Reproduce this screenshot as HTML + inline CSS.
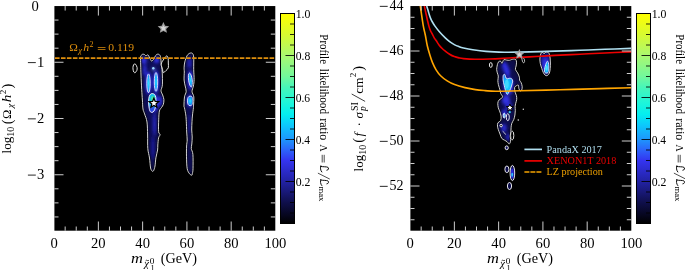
<!DOCTYPE html>
<html><head><meta charset="utf-8"><title>plot</title><style>
html,body{margin:0;padding:0;background:#fff;width:685px;height:270px;overflow:hidden}
svg{display:block;will-change:transform}
text{font-family:"Liberation Serif",serif}
</style></head><body>
<svg width="685" height="270" viewBox="0 0 685 270">
<defs>
<linearGradient id="cmap" x1="0" y1="1" x2="0" y2="0">
<stop offset="0" stop-color="#000000"/>
<stop offset="0.1" stop-color="#0f0f4b"/>
<stop offset="0.2" stop-color="#2222a4"/>
<stop offset="0.3" stop-color="#3434f0"/>
<stop offset="0.35" stop-color="#2c64fa"/>
<stop offset="0.4" stop-color="#1e96fc"/>
<stop offset="0.47" stop-color="#0ccafc"/>
<stop offset="0.52" stop-color="#04eef0"/>
<stop offset="0.58" stop-color="#20f6d8"/>
<stop offset="0.65" stop-color="#48f6b8"/>
<stop offset="0.7" stop-color="#72f89c"/>
<stop offset="0.8" stop-color="#aaf870"/>
<stop offset="0.9" stop-color="#d8fa30"/>
<stop offset="1" stop-color="#ffff00"/>
</linearGradient>
<radialGradient id="rg1"><stop offset="0" stop-color="#30e0ff"/><stop offset="0.55" stop-color="#12b0ff"/><stop offset="1" stop-color="#2a60f0"/></radialGradient>
<radialGradient id="rg2" cx="0.45" cy="0.55" r="0.6"><stop offset="0" stop-color="#20e0ff"/><stop offset="0.6" stop-color="#10b0ff"/><stop offset="1" stop-color="#2a70f0"/></radialGradient>
<filter id="b1" x="-50%" y="-50%" width="200%" height="200%"><feGaussianBlur stdDeviation="1.6"/></filter>
<filter id="b2" x="-50%" y="-50%" width="200%" height="200%"><feGaussianBlur stdDeviation="0.9"/></filter>
<filter id="b4" x="-50%" y="-50%" width="200%" height="200%"><feGaussianBlur stdDeviation="2.2"/></filter>
<filter id="b3" x="-50%" y="-50%" width="200%" height="200%"><feGaussianBlur stdDeviation="0.6"/></filter>
</defs>
<rect width="685" height="270" fill="#fff"/>

<rect x="54.4" y="6.05" width="220.9" height="224.65" fill="#000"/>
<defs><clipPath id="cA"><path d="M140.60,57.00 C140.75,55.33 141.22,55.47 141.60,55.00 C141.98,54.53 142.40,54.27 142.90,54.20 C143.40,54.13 144.10,54.32 144.60,54.60 C145.10,54.88 145.47,55.83 145.90,55.90 C146.33,55.97 146.77,55.08 147.20,55.00 C147.63,54.92 148.05,54.80 148.50,55.40 C148.95,56.00 149.40,57.67 149.90,58.60 C150.40,59.53 150.90,60.87 151.50,61.00 C152.10,61.13 152.82,60.30 153.50,59.40 C154.18,58.50 154.92,56.47 155.60,55.60 C156.28,54.73 156.93,54.32 157.60,54.20 C158.27,54.08 159.08,54.37 159.60,54.90 C160.12,55.43 160.43,55.88 160.70,57.40 C160.97,58.92 160.95,61.57 161.20,64.00 C161.45,66.43 162.00,68.53 162.20,72.00 C162.40,75.47 162.60,81.68 162.40,84.80 C162.20,87.92 160.97,89.00 161.00,90.70 C161.03,92.40 162.12,93.52 162.60,95.00 C163.08,96.48 163.78,98.02 163.90,99.60 C164.02,101.18 163.70,103.18 163.30,104.50 C162.90,105.82 162.15,106.42 161.50,107.50 C160.85,108.58 159.87,108.95 159.40,111.00 C158.93,113.05 158.83,116.35 158.70,119.80 C158.57,123.25 158.37,129.23 158.60,131.70 C158.83,134.17 160.10,133.58 160.10,134.60 C160.10,135.62 158.98,136.07 158.60,137.80 C158.22,139.53 157.97,142.97 157.80,145.00 C157.63,147.03 157.92,147.87 157.60,150.00 C157.28,152.13 156.33,155.13 155.90,157.80 C155.47,160.47 155.38,163.87 155.00,166.00 C154.62,168.13 154.07,169.75 153.60,170.60 C153.13,171.45 152.70,171.53 152.20,171.10 C151.70,170.67 151.05,170.18 150.60,168.00 C150.15,165.82 149.97,161.25 149.50,158.00 C149.03,154.75 148.12,152.33 147.80,148.50 C147.48,144.67 147.73,139.42 147.60,135.00 C147.47,130.58 147.50,125.52 147.00,122.00 C146.50,118.48 145.27,116.07 144.60,113.90 C143.93,111.73 143.37,111.32 143.00,109.00 C142.63,106.68 142.62,103.28 142.40,100.00 C142.18,96.72 141.93,93.47 141.70,89.30 C141.47,85.13 141.17,79.05 141.00,75.00 C140.83,70.95 140.77,68.00 140.70,65.00 C140.63,62.00 140.45,58.67 140.60,57.00Z"/></clipPath><clipPath id="cB"><path d="M190.70,53.00 C191.33,52.97 192.10,52.87 192.60,53.60 C193.10,54.33 193.52,54.78 193.70,57.40 C193.88,60.02 193.63,65.60 193.70,69.30 C193.77,73.00 194.15,76.82 194.10,79.60 C194.05,82.38 193.75,84.00 193.40,86.00 C193.05,88.00 191.93,89.78 192.00,91.60 C192.07,93.42 193.55,94.52 193.80,96.90 C194.05,99.28 193.57,104.05 193.50,105.90 C193.43,107.75 193.57,106.48 193.40,108.00 C193.23,109.52 192.73,112.77 192.50,115.00 C192.27,117.23 192.13,118.90 192.00,121.40 C191.87,123.90 191.67,127.40 191.70,130.00 C191.73,132.60 192.18,134.67 192.20,137.00 C192.22,139.33 191.95,142.07 191.80,144.00 C191.65,145.93 191.12,146.85 191.30,148.60 C191.48,150.35 192.62,151.15 192.90,154.50 C193.18,157.85 193.08,165.55 193.00,168.70 C192.92,171.85 192.60,172.32 192.40,173.40 C192.20,174.48 192.27,175.13 191.80,175.20 C191.33,175.27 190.37,174.88 189.60,173.80 C188.83,172.72 187.72,171.53 187.20,168.70 C186.68,165.87 186.60,160.58 186.50,156.80 C186.40,153.02 186.48,148.80 186.60,146.00 C186.72,143.20 187.18,142.33 187.20,140.00 C187.22,137.67 186.85,135.10 186.70,132.00 C186.55,128.90 186.45,124.23 186.30,121.40 C186.15,118.57 186.10,117.23 185.80,115.00 C185.50,112.77 184.80,109.52 184.50,108.00 C184.20,106.48 184.00,107.75 184.00,105.90 C184.00,104.05 184.13,99.28 184.50,96.90 C184.87,94.52 186.08,93.42 186.20,91.60 C186.32,89.78 185.55,87.93 185.20,86.00 C184.85,84.07 184.25,82.33 184.10,80.00 C183.95,77.67 184.30,74.03 184.30,72.00 C184.30,69.97 184.02,69.48 184.10,67.80 C184.18,66.12 184.32,63.88 184.80,61.90 C185.28,59.92 186.33,57.25 187.00,55.90 C187.67,54.55 188.18,54.28 188.80,53.80 C189.42,53.32 190.07,53.03 190.70,53.00Z"/></clipPath></defs>
<g clip-path="url(#cA)">
<path d="M140.60,57.00 C140.75,55.33 141.22,55.47 141.60,55.00 C141.98,54.53 142.40,54.27 142.90,54.20 C143.40,54.13 144.10,54.32 144.60,54.60 C145.10,54.88 145.47,55.83 145.90,55.90 C146.33,55.97 146.77,55.08 147.20,55.00 C147.63,54.92 148.05,54.80 148.50,55.40 C148.95,56.00 149.40,57.67 149.90,58.60 C150.40,59.53 150.90,60.87 151.50,61.00 C152.10,61.13 152.82,60.30 153.50,59.40 C154.18,58.50 154.92,56.47 155.60,55.60 C156.28,54.73 156.93,54.32 157.60,54.20 C158.27,54.08 159.08,54.37 159.60,54.90 C160.12,55.43 160.43,55.88 160.70,57.40 C160.97,58.92 160.95,61.57 161.20,64.00 C161.45,66.43 162.00,68.53 162.20,72.00 C162.40,75.47 162.60,81.68 162.40,84.80 C162.20,87.92 160.97,89.00 161.00,90.70 C161.03,92.40 162.12,93.52 162.60,95.00 C163.08,96.48 163.78,98.02 163.90,99.60 C164.02,101.18 163.70,103.18 163.30,104.50 C162.90,105.82 162.15,106.42 161.50,107.50 C160.85,108.58 159.87,108.95 159.40,111.00 C158.93,113.05 158.83,116.35 158.70,119.80 C158.57,123.25 158.37,129.23 158.60,131.70 C158.83,134.17 160.10,133.58 160.10,134.60 C160.10,135.62 158.98,136.07 158.60,137.80 C158.22,139.53 157.97,142.97 157.80,145.00 C157.63,147.03 157.92,147.87 157.60,150.00 C157.28,152.13 156.33,155.13 155.90,157.80 C155.47,160.47 155.38,163.87 155.00,166.00 C154.62,168.13 154.07,169.75 153.60,170.60 C153.13,171.45 152.70,171.53 152.20,171.10 C151.70,170.67 151.05,170.18 150.60,168.00 C150.15,165.82 149.97,161.25 149.50,158.00 C149.03,154.75 148.12,152.33 147.80,148.50 C147.48,144.67 147.73,139.42 147.60,135.00 C147.47,130.58 147.50,125.52 147.00,122.00 C146.50,118.48 145.27,116.07 144.60,113.90 C143.93,111.73 143.37,111.32 143.00,109.00 C142.63,106.68 142.62,103.28 142.40,100.00 C142.18,96.72 141.93,93.47 141.70,89.30 C141.47,85.13 141.17,79.05 141.00,75.00 C140.83,70.95 140.77,68.00 140.70,65.00 C140.63,62.00 140.45,58.67 140.60,57.00Z" fill="#030320"/>
<path d="M140.60,57.00 C140.75,55.33 141.22,55.47 141.60,55.00 C141.98,54.53 142.40,54.27 142.90,54.20 C143.40,54.13 144.10,54.32 144.60,54.60 C145.10,54.88 145.47,55.83 145.90,55.90 C146.33,55.97 146.77,55.08 147.20,55.00 C147.63,54.92 148.05,54.80 148.50,55.40 C148.95,56.00 149.40,57.67 149.90,58.60 C150.40,59.53 150.90,60.87 151.50,61.00 C152.10,61.13 152.82,60.30 153.50,59.40 C154.18,58.50 154.92,56.47 155.60,55.60 C156.28,54.73 156.93,54.32 157.60,54.20 C158.27,54.08 159.08,54.37 159.60,54.90 C160.12,55.43 160.43,55.88 160.70,57.40 C160.97,58.92 160.95,61.57 161.20,64.00 C161.45,66.43 162.00,68.53 162.20,72.00 C162.40,75.47 162.60,81.68 162.40,84.80 C162.20,87.92 160.97,89.00 161.00,90.70 C161.03,92.40 162.12,93.52 162.60,95.00 C163.08,96.48 163.78,98.02 163.90,99.60 C164.02,101.18 163.70,103.18 163.30,104.50 C162.90,105.82 162.15,106.42 161.50,107.50 C160.85,108.58 159.87,108.95 159.40,111.00 C158.93,113.05 158.83,116.35 158.70,119.80 C158.57,123.25 158.37,129.23 158.60,131.70 C158.83,134.17 160.10,133.58 160.10,134.60 C160.10,135.62 158.98,136.07 158.60,137.80 C158.22,139.53 157.97,142.97 157.80,145.00 C157.63,147.03 157.92,147.87 157.60,150.00 C157.28,152.13 156.33,155.13 155.90,157.80 C155.47,160.47 155.38,163.87 155.00,166.00 C154.62,168.13 154.07,169.75 153.60,170.60 C153.13,171.45 152.70,171.53 152.20,171.10 C151.70,170.67 151.05,170.18 150.60,168.00 C150.15,165.82 149.97,161.25 149.50,158.00 C149.03,154.75 148.12,152.33 147.80,148.50 C147.48,144.67 147.73,139.42 147.60,135.00 C147.47,130.58 147.50,125.52 147.00,122.00 C146.50,118.48 145.27,116.07 144.60,113.90 C143.93,111.73 143.37,111.32 143.00,109.00 C142.63,106.68 142.62,103.28 142.40,100.00 C142.18,96.72 141.93,93.47 141.70,89.30 C141.47,85.13 141.17,79.05 141.00,75.00 C140.83,70.95 140.77,68.00 140.70,65.00 C140.63,62.00 140.45,58.67 140.60,57.00Z" fill="#0b0b58" filter="url(#b4)"/>
<g filter="url(#b1)"><ellipse cx="144.8" cy="70" rx="1.8" ry="6" fill="#2a2ad0"/><ellipse cx="144" cy="60.5" rx="2.6" ry="3.5" fill="#3030e0"/><ellipse cx="156.5" cy="60" rx="2.8" ry="3.2" fill="#2e2edc"/><ellipse cx="148.5" cy="83" rx="3" ry="11.5" fill="#3232e8"/><ellipse cx="156.0" cy="82" rx="3" ry="11.5" fill="#3030e4"/><ellipse cx="154.3" cy="103" rx="4.3" ry="9" fill="#3232e8"/><ellipse cx="159.8" cy="101" rx="2.6" ry="5" fill="#2828c4"/><ellipse cx="154.5" cy="124" rx="1.5" ry="12" fill="#2626c4"/><ellipse cx="153" cy="148" rx="1.1" ry="12" fill="#2020b0"/><circle cx="153.5" cy="69" r="1.6" fill="#7090ff"/></g>
</g>
<g clip-path="url(#cB)">
<path d="M190.70,53.00 C191.33,52.97 192.10,52.87 192.60,53.60 C193.10,54.33 193.52,54.78 193.70,57.40 C193.88,60.02 193.63,65.60 193.70,69.30 C193.77,73.00 194.15,76.82 194.10,79.60 C194.05,82.38 193.75,84.00 193.40,86.00 C193.05,88.00 191.93,89.78 192.00,91.60 C192.07,93.42 193.55,94.52 193.80,96.90 C194.05,99.28 193.57,104.05 193.50,105.90 C193.43,107.75 193.57,106.48 193.40,108.00 C193.23,109.52 192.73,112.77 192.50,115.00 C192.27,117.23 192.13,118.90 192.00,121.40 C191.87,123.90 191.67,127.40 191.70,130.00 C191.73,132.60 192.18,134.67 192.20,137.00 C192.22,139.33 191.95,142.07 191.80,144.00 C191.65,145.93 191.12,146.85 191.30,148.60 C191.48,150.35 192.62,151.15 192.90,154.50 C193.18,157.85 193.08,165.55 193.00,168.70 C192.92,171.85 192.60,172.32 192.40,173.40 C192.20,174.48 192.27,175.13 191.80,175.20 C191.33,175.27 190.37,174.88 189.60,173.80 C188.83,172.72 187.72,171.53 187.20,168.70 C186.68,165.87 186.60,160.58 186.50,156.80 C186.40,153.02 186.48,148.80 186.60,146.00 C186.72,143.20 187.18,142.33 187.20,140.00 C187.22,137.67 186.85,135.10 186.70,132.00 C186.55,128.90 186.45,124.23 186.30,121.40 C186.15,118.57 186.10,117.23 185.80,115.00 C185.50,112.77 184.80,109.52 184.50,108.00 C184.20,106.48 184.00,107.75 184.00,105.90 C184.00,104.05 184.13,99.28 184.50,96.90 C184.87,94.52 186.08,93.42 186.20,91.60 C186.32,89.78 185.55,87.93 185.20,86.00 C184.85,84.07 184.25,82.33 184.10,80.00 C183.95,77.67 184.30,74.03 184.30,72.00 C184.30,69.97 184.02,69.48 184.10,67.80 C184.18,66.12 184.32,63.88 184.80,61.90 C185.28,59.92 186.33,57.25 187.00,55.90 C187.67,54.55 188.18,54.28 188.80,53.80 C189.42,53.32 190.07,53.03 190.70,53.00Z" fill="#030320"/>
<path d="M190.70,53.00 C191.33,52.97 192.10,52.87 192.60,53.60 C193.10,54.33 193.52,54.78 193.70,57.40 C193.88,60.02 193.63,65.60 193.70,69.30 C193.77,73.00 194.15,76.82 194.10,79.60 C194.05,82.38 193.75,84.00 193.40,86.00 C193.05,88.00 191.93,89.78 192.00,91.60 C192.07,93.42 193.55,94.52 193.80,96.90 C194.05,99.28 193.57,104.05 193.50,105.90 C193.43,107.75 193.57,106.48 193.40,108.00 C193.23,109.52 192.73,112.77 192.50,115.00 C192.27,117.23 192.13,118.90 192.00,121.40 C191.87,123.90 191.67,127.40 191.70,130.00 C191.73,132.60 192.18,134.67 192.20,137.00 C192.22,139.33 191.95,142.07 191.80,144.00 C191.65,145.93 191.12,146.85 191.30,148.60 C191.48,150.35 192.62,151.15 192.90,154.50 C193.18,157.85 193.08,165.55 193.00,168.70 C192.92,171.85 192.60,172.32 192.40,173.40 C192.20,174.48 192.27,175.13 191.80,175.20 C191.33,175.27 190.37,174.88 189.60,173.80 C188.83,172.72 187.72,171.53 187.20,168.70 C186.68,165.87 186.60,160.58 186.50,156.80 C186.40,153.02 186.48,148.80 186.60,146.00 C186.72,143.20 187.18,142.33 187.20,140.00 C187.22,137.67 186.85,135.10 186.70,132.00 C186.55,128.90 186.45,124.23 186.30,121.40 C186.15,118.57 186.10,117.23 185.80,115.00 C185.50,112.77 184.80,109.52 184.50,108.00 C184.20,106.48 184.00,107.75 184.00,105.90 C184.00,104.05 184.13,99.28 184.50,96.90 C184.87,94.52 186.08,93.42 186.20,91.60 C186.32,89.78 185.55,87.93 185.20,86.00 C184.85,84.07 184.25,82.33 184.10,80.00 C183.95,77.67 184.30,74.03 184.30,72.00 C184.30,69.97 184.02,69.48 184.10,67.80 C184.18,66.12 184.32,63.88 184.80,61.90 C185.28,59.92 186.33,57.25 187.00,55.90 C187.67,54.55 188.18,54.28 188.80,53.80 C189.42,53.32 190.07,53.03 190.70,53.00Z" fill="#0b0b58" filter="url(#b4)"/>
<g filter="url(#b1)"><ellipse cx="190.4" cy="80" rx="2.8" ry="10" fill="#2c2cd8"/><ellipse cx="189.5" cy="63" rx="2" ry="5" fill="#2222b8"/><ellipse cx="190.2" cy="101" rx="3.4" ry="6" fill="#3030e0"/><ellipse cx="189.5" cy="124" rx="1" ry="10" fill="#1c1ca4"/></g>
</g>
<ellipse cx="148.5" cy="83.3" rx="1.7" ry="9.4" transform="rotate(0 148.5 83.3)" fill="url(#rg1)" stroke="#f0f4ff" stroke-width="0.85"/>
<ellipse cx="156.0" cy="81.9" rx="1.7" ry="9.4" transform="rotate(0 156.0 81.9)" fill="url(#rg1)" stroke="#f0f4ff" stroke-width="0.85"/>
<ellipse cx="190.4" cy="80.0" rx="1.8" ry="7.0" transform="rotate(-8 190.4 80.0)" fill="url(#rg1)" stroke="#f0f4ff" stroke-width="0.85"/>
<ellipse cx="190.2" cy="100.9" rx="2.7" ry="4.8" transform="rotate(0 190.2 100.9)" fill="url(#rg1)" stroke="#f0f4ff" stroke-width="0.85"/>
<defs><linearGradient id="sbg" x1="0" y1="0" x2="0" y2="1"><stop offset="0" stop-color="#10c0e8"/><stop offset="0.55" stop-color="#10b8f0"/><stop offset="0.8" stop-color="#2a50e0"/><stop offset="1" stop-color="#2a40e0"/></linearGradient></defs>
<path d="M152.20,93.60 C152.88,93.65 154.00,93.85 154.60,94.50 C155.20,95.15 155.58,96.25 155.80,97.50 C156.02,98.75 155.95,100.42 155.90,102.00 C155.85,103.58 155.82,105.50 155.50,107.00 C155.18,108.50 154.58,110.10 154.00,111.00 C153.42,111.90 152.67,112.37 152.00,112.40 C151.33,112.43 150.50,112.10 150.00,111.20 C149.50,110.30 149.23,108.70 149.00,107.00 C148.77,105.30 148.57,102.75 148.60,101.00 C148.63,99.25 148.88,97.63 149.20,96.50 C149.52,95.37 150.00,94.68 150.50,94.20 C151.00,93.72 151.52,93.55 152.20,93.60Z" fill="url(#sbg)" stroke="#fff" stroke-width="0.9"/>
<ellipse cx="153" cy="99" rx="2" ry="3" fill="#40e0a0" filter="url(#b3)"/>
<path d="M140.60,57.00 C140.75,55.33 141.22,55.47 141.60,55.00 C141.98,54.53 142.40,54.27 142.90,54.20 C143.40,54.13 144.10,54.32 144.60,54.60 C145.10,54.88 145.47,55.83 145.90,55.90 C146.33,55.97 146.77,55.08 147.20,55.00 C147.63,54.92 148.05,54.80 148.50,55.40 C148.95,56.00 149.40,57.67 149.90,58.60 C150.40,59.53 150.90,60.87 151.50,61.00 C152.10,61.13 152.82,60.30 153.50,59.40 C154.18,58.50 154.92,56.47 155.60,55.60 C156.28,54.73 156.93,54.32 157.60,54.20 C158.27,54.08 159.08,54.37 159.60,54.90 C160.12,55.43 160.43,55.88 160.70,57.40 C160.97,58.92 160.95,61.57 161.20,64.00 C161.45,66.43 162.00,68.53 162.20,72.00 C162.40,75.47 162.60,81.68 162.40,84.80 C162.20,87.92 160.97,89.00 161.00,90.70 C161.03,92.40 162.12,93.52 162.60,95.00 C163.08,96.48 163.78,98.02 163.90,99.60 C164.02,101.18 163.70,103.18 163.30,104.50 C162.90,105.82 162.15,106.42 161.50,107.50 C160.85,108.58 159.87,108.95 159.40,111.00 C158.93,113.05 158.83,116.35 158.70,119.80 C158.57,123.25 158.37,129.23 158.60,131.70 C158.83,134.17 160.10,133.58 160.10,134.60 C160.10,135.62 158.98,136.07 158.60,137.80 C158.22,139.53 157.97,142.97 157.80,145.00 C157.63,147.03 157.92,147.87 157.60,150.00 C157.28,152.13 156.33,155.13 155.90,157.80 C155.47,160.47 155.38,163.87 155.00,166.00 C154.62,168.13 154.07,169.75 153.60,170.60 C153.13,171.45 152.70,171.53 152.20,171.10 C151.70,170.67 151.05,170.18 150.60,168.00 C150.15,165.82 149.97,161.25 149.50,158.00 C149.03,154.75 148.12,152.33 147.80,148.50 C147.48,144.67 147.73,139.42 147.60,135.00 C147.47,130.58 147.50,125.52 147.00,122.00 C146.50,118.48 145.27,116.07 144.60,113.90 C143.93,111.73 143.37,111.32 143.00,109.00 C142.63,106.68 142.62,103.28 142.40,100.00 C142.18,96.72 141.93,93.47 141.70,89.30 C141.47,85.13 141.17,79.05 141.00,75.00 C140.83,70.95 140.77,68.00 140.70,65.00 C140.63,62.00 140.45,58.67 140.60,57.00Z" fill="none" stroke="#000" stroke-width="2.2" opacity="0.55"/>
<path d="M140.60,57.00 C140.75,55.33 141.22,55.47 141.60,55.00 C141.98,54.53 142.40,54.27 142.90,54.20 C143.40,54.13 144.10,54.32 144.60,54.60 C145.10,54.88 145.47,55.83 145.90,55.90 C146.33,55.97 146.77,55.08 147.20,55.00 C147.63,54.92 148.05,54.80 148.50,55.40 C148.95,56.00 149.40,57.67 149.90,58.60 C150.40,59.53 150.90,60.87 151.50,61.00 C152.10,61.13 152.82,60.30 153.50,59.40 C154.18,58.50 154.92,56.47 155.60,55.60 C156.28,54.73 156.93,54.32 157.60,54.20 C158.27,54.08 159.08,54.37 159.60,54.90 C160.12,55.43 160.43,55.88 160.70,57.40 C160.97,58.92 160.95,61.57 161.20,64.00 C161.45,66.43 162.00,68.53 162.20,72.00 C162.40,75.47 162.60,81.68 162.40,84.80 C162.20,87.92 160.97,89.00 161.00,90.70 C161.03,92.40 162.12,93.52 162.60,95.00 C163.08,96.48 163.78,98.02 163.90,99.60 C164.02,101.18 163.70,103.18 163.30,104.50 C162.90,105.82 162.15,106.42 161.50,107.50 C160.85,108.58 159.87,108.95 159.40,111.00 C158.93,113.05 158.83,116.35 158.70,119.80 C158.57,123.25 158.37,129.23 158.60,131.70 C158.83,134.17 160.10,133.58 160.10,134.60 C160.10,135.62 158.98,136.07 158.60,137.80 C158.22,139.53 157.97,142.97 157.80,145.00 C157.63,147.03 157.92,147.87 157.60,150.00 C157.28,152.13 156.33,155.13 155.90,157.80 C155.47,160.47 155.38,163.87 155.00,166.00 C154.62,168.13 154.07,169.75 153.60,170.60 C153.13,171.45 152.70,171.53 152.20,171.10 C151.70,170.67 151.05,170.18 150.60,168.00 C150.15,165.82 149.97,161.25 149.50,158.00 C149.03,154.75 148.12,152.33 147.80,148.50 C147.48,144.67 147.73,139.42 147.60,135.00 C147.47,130.58 147.50,125.52 147.00,122.00 C146.50,118.48 145.27,116.07 144.60,113.90 C143.93,111.73 143.37,111.32 143.00,109.00 C142.63,106.68 142.62,103.28 142.40,100.00 C142.18,96.72 141.93,93.47 141.70,89.30 C141.47,85.13 141.17,79.05 141.00,75.00 C140.83,70.95 140.77,68.00 140.70,65.00 C140.63,62.00 140.45,58.67 140.60,57.00Z" fill="none" stroke="#e8e8e8" stroke-width="0.9"/>
<path d="M190.70,53.00 C191.33,52.97 192.10,52.87 192.60,53.60 C193.10,54.33 193.52,54.78 193.70,57.40 C193.88,60.02 193.63,65.60 193.70,69.30 C193.77,73.00 194.15,76.82 194.10,79.60 C194.05,82.38 193.75,84.00 193.40,86.00 C193.05,88.00 191.93,89.78 192.00,91.60 C192.07,93.42 193.55,94.52 193.80,96.90 C194.05,99.28 193.57,104.05 193.50,105.90 C193.43,107.75 193.57,106.48 193.40,108.00 C193.23,109.52 192.73,112.77 192.50,115.00 C192.27,117.23 192.13,118.90 192.00,121.40 C191.87,123.90 191.67,127.40 191.70,130.00 C191.73,132.60 192.18,134.67 192.20,137.00 C192.22,139.33 191.95,142.07 191.80,144.00 C191.65,145.93 191.12,146.85 191.30,148.60 C191.48,150.35 192.62,151.15 192.90,154.50 C193.18,157.85 193.08,165.55 193.00,168.70 C192.92,171.85 192.60,172.32 192.40,173.40 C192.20,174.48 192.27,175.13 191.80,175.20 C191.33,175.27 190.37,174.88 189.60,173.80 C188.83,172.72 187.72,171.53 187.20,168.70 C186.68,165.87 186.60,160.58 186.50,156.80 C186.40,153.02 186.48,148.80 186.60,146.00 C186.72,143.20 187.18,142.33 187.20,140.00 C187.22,137.67 186.85,135.10 186.70,132.00 C186.55,128.90 186.45,124.23 186.30,121.40 C186.15,118.57 186.10,117.23 185.80,115.00 C185.50,112.77 184.80,109.52 184.50,108.00 C184.20,106.48 184.00,107.75 184.00,105.90 C184.00,104.05 184.13,99.28 184.50,96.90 C184.87,94.52 186.08,93.42 186.20,91.60 C186.32,89.78 185.55,87.93 185.20,86.00 C184.85,84.07 184.25,82.33 184.10,80.00 C183.95,77.67 184.30,74.03 184.30,72.00 C184.30,69.97 184.02,69.48 184.10,67.80 C184.18,66.12 184.32,63.88 184.80,61.90 C185.28,59.92 186.33,57.25 187.00,55.90 C187.67,54.55 188.18,54.28 188.80,53.80 C189.42,53.32 190.07,53.03 190.70,53.00Z" fill="none" stroke="#000" stroke-width="2.2" opacity="0.55"/>
<path d="M190.70,53.00 C191.33,52.97 192.10,52.87 192.60,53.60 C193.10,54.33 193.52,54.78 193.70,57.40 C193.88,60.02 193.63,65.60 193.70,69.30 C193.77,73.00 194.15,76.82 194.10,79.60 C194.05,82.38 193.75,84.00 193.40,86.00 C193.05,88.00 191.93,89.78 192.00,91.60 C192.07,93.42 193.55,94.52 193.80,96.90 C194.05,99.28 193.57,104.05 193.50,105.90 C193.43,107.75 193.57,106.48 193.40,108.00 C193.23,109.52 192.73,112.77 192.50,115.00 C192.27,117.23 192.13,118.90 192.00,121.40 C191.87,123.90 191.67,127.40 191.70,130.00 C191.73,132.60 192.18,134.67 192.20,137.00 C192.22,139.33 191.95,142.07 191.80,144.00 C191.65,145.93 191.12,146.85 191.30,148.60 C191.48,150.35 192.62,151.15 192.90,154.50 C193.18,157.85 193.08,165.55 193.00,168.70 C192.92,171.85 192.60,172.32 192.40,173.40 C192.20,174.48 192.27,175.13 191.80,175.20 C191.33,175.27 190.37,174.88 189.60,173.80 C188.83,172.72 187.72,171.53 187.20,168.70 C186.68,165.87 186.60,160.58 186.50,156.80 C186.40,153.02 186.48,148.80 186.60,146.00 C186.72,143.20 187.18,142.33 187.20,140.00 C187.22,137.67 186.85,135.10 186.70,132.00 C186.55,128.90 186.45,124.23 186.30,121.40 C186.15,118.57 186.10,117.23 185.80,115.00 C185.50,112.77 184.80,109.52 184.50,108.00 C184.20,106.48 184.00,107.75 184.00,105.90 C184.00,104.05 184.13,99.28 184.50,96.90 C184.87,94.52 186.08,93.42 186.20,91.60 C186.32,89.78 185.55,87.93 185.20,86.00 C184.85,84.07 184.25,82.33 184.10,80.00 C183.95,77.67 184.30,74.03 184.30,72.00 C184.30,69.97 184.02,69.48 184.10,67.80 C184.18,66.12 184.32,63.88 184.80,61.90 C185.28,59.92 186.33,57.25 187.00,55.90 C187.67,54.55 188.18,54.28 188.80,53.80 C189.42,53.32 190.07,53.03 190.70,53.00Z" fill="none" stroke="#e8e8e8" stroke-width="0.9"/>
<path d="M161.20,64.00 C161.45,62.42 163.13,60.25 163.90,59.00 C164.67,57.75 165.25,56.98 165.80,56.50 C166.35,56.02 166.80,55.70 167.20,56.10 C167.60,56.50 168.02,57.75 168.20,58.90 C168.38,60.05 168.28,61.52 168.30,63.00 C168.32,64.48 168.68,66.55 168.30,67.80 C167.92,69.05 166.83,69.70 166.00,70.50 C165.17,71.30 163.90,72.93 163.30,72.60 C162.70,72.27 162.75,69.93 162.40,68.50 C162.05,67.07 160.95,65.58 161.20,64.00Z" fill="#000" stroke="#fff" stroke-width="0.9"/>
<path d="M133.20,66.00 C133.42,65.17 133.90,64.28 134.30,64.00 C134.70,63.72 135.13,63.72 135.60,64.30 C136.07,64.88 136.90,66.47 137.10,67.50 C137.30,68.53 137.12,69.65 136.80,70.50 C136.48,71.35 135.70,72.35 135.20,72.60 C134.70,72.85 134.17,72.60 133.80,72.00 C133.43,71.40 133.10,70.00 133.00,69.00 C132.90,68.00 132.98,66.83 133.20,66.00Z" fill="none" stroke="#fff" stroke-width="0.9"/>
<circle cx="153.3" cy="68.3" r="1.2" fill="#9ad8ff" filter="url(#b3)"/>
<path d="M153.90,98.20 L155.22,101.38 L158.66,101.65 L156.04,103.90 L156.84,107.25 L153.90,105.45 L150.96,107.25 L151.76,103.90 L149.14,101.65 L152.58,101.38Z" fill="#fff" stroke="#000" stroke-width="1.3" stroke-linejoin="miter"/>
<path d="M163.40,22.00 L165.10,25.65 L169.11,26.15 L166.16,28.90 L166.93,32.85 L163.40,30.90 L159.87,32.85 L160.64,28.90 L157.69,26.15 L161.70,25.65Z" fill="#a0a0a0" filter="url(#b3)"/>
<path d="M163.40,25.30 L164.28,27.09 L166.25,27.37 L164.83,28.76 L165.16,30.73 L163.40,29.80 L161.64,30.73 L161.97,28.76 L160.55,27.37 L162.52,27.09Z" fill="#d8d8d8" filter="url(#b3)"/>
<line x1="55.0" y1="58.05" x2="275.3" y2="58.05" stroke="#de8e0c" stroke-width="1.7" stroke-dasharray="4.6 1.36"/>
<g style="font-family:'Liberation Serif',serif"><text transform="translate(69.29,51.0) scale(1.104,1)" font-size="10.5" fill="#de8e0c">Ω</text><text transform="translate(78.30,52.9) scale(1.080,1)" font-size="8" font-style="italic" fill="#de8e0c">χ</text><text transform="translate(83.37,51.0) scale(1.075,1)" font-size="11" font-style="italic" fill="#de8e0c">h</text><text x="89.55" y="47.4" font-size="8" fill="#de8e0c">2</text><text transform="translate(108.28,51.2) scale(1.060,1)" font-size="11" fill="#de8e0c">0.119</text></g>
<path d="M97.8,47.5h7.7M97.8,49.5h7.7" stroke="#de8e0c" stroke-width="0.75"/>
<path d="M65.17,230.7v-4.2M65.17,6.05v4.5M76.23,230.7v-4.2M76.23,6.05v4.5M87.30,230.7v-4.2M87.30,6.05v4.5M98.37,230.7v-9.2M98.37,6.05v9.5M109.44,230.7v-4.2M109.44,6.05v4.5M120.50,230.7v-4.2M120.50,6.05v4.5M131.57,230.7v-4.2M131.57,6.05v4.5M142.64,230.7v-9.2M142.64,6.05v9.5M153.71,230.7v-4.2M153.71,6.05v4.5M164.78,230.7v-4.2M164.78,6.05v4.5M175.84,230.7v-4.2M175.84,6.05v4.5M186.91,230.7v-9.2M186.91,6.05v9.5M197.98,230.7v-4.2M197.98,6.05v4.5M209.04,230.7v-4.2M209.04,6.05v4.5M220.11,230.7v-4.2M220.11,6.05v4.5M231.18,230.7v-9.2M231.18,6.05v9.5M242.25,230.7v-4.2M242.25,6.05v4.5M253.31,230.7v-4.2M253.31,6.05v4.5M264.38,230.7v-4.2M264.38,6.05v4.5M54.4,216.94h4.1M275.3,216.94h-4.5M54.4,202.88h4.1M275.3,202.88h-4.5M54.4,188.81h4.1M275.3,188.81h-4.5M54.4,174.75h9.1M275.3,174.75h-9.5M54.4,160.69h4.1M275.3,160.69h-4.5M54.4,146.62h4.1M275.3,146.62h-4.5M54.4,132.56h4.1M275.3,132.56h-4.5M54.4,118.50h9.1M275.3,118.50h-9.5M54.4,104.44h4.1M275.3,104.44h-4.5M54.4,90.38h4.1M275.3,90.38h-4.5M54.4,76.31h4.1M275.3,76.31h-4.5M54.4,62.25h9.1M275.3,62.25h-9.5M54.4,48.19h4.1M275.3,48.19h-4.5M54.4,34.12h4.1M275.3,34.12h-4.5M54.4,20.06h4.1M275.3,20.06h-4.5" stroke="#e4e4e4" stroke-width="0.9" fill="none"/>
<g style="font-family:'Liberation Serif',serif" font-size="14.6" fill="#000"><text x="54.10" y="247.7" text-anchor="middle">0</text><text x="98.37" y="247.7" text-anchor="middle">20</text><text x="142.64" y="247.7" text-anchor="middle">40</text><text x="186.91" y="247.7" text-anchor="middle">60</text><text x="231.18" y="247.7" text-anchor="middle">80</text><text x="275.45" y="247.7" text-anchor="middle">100</text><text x="35.20" y="10.70" text-anchor="middle">0</text><text x="37.10" y="66.85" font-size="14.6">1</text><text x="37.10" y="123.10" font-size="14.6">2</text><text x="37.10" y="179.35" font-size="14.6">3</text></g>
<path d="M27.90,62.60h7.9M27.90,118.85h7.9M27.90,175.10h7.9" stroke="#000" stroke-width="0.85" fill="none"/>
<rect x="280.5" y="13.5" width="14.0" height="210.0" fill="url(#cmap)" stroke="#000" stroke-width="1"/>
<path d="M294.5,213.00h-4.5M294.5,202.50h-4.5M294.5,192.00h-4.5M294.5,181.50h-9M294.5,171.00h-4.5M294.5,160.50h-4.5M294.5,150.00h-4.5M294.5,139.50h-9M294.5,129.00h-4.5M294.5,118.50h-4.5M294.5,108.00h-4.5M294.5,97.50h-9M294.5,87.00h-4.5M294.5,76.50h-4.5M294.5,66.00h-4.5M294.5,55.50h-9M294.5,45.00h-4.5M294.5,34.50h-4.5M294.5,24.00h-4.5" stroke="#000" stroke-width="1" fill="none" opacity="0.85"/>
<g style="font-family:'Liberation Serif',serif" font-size="12" fill="#000"><text transform="translate(295.66,185.7) scale(0.986,1)" font-size="12" fill="#000">0.2</text><text transform="translate(295.67,143.7) scale(0.955,1)" font-size="12" fill="#000">0.4</text><text transform="translate(295.67,101.7) scale(0.965,1)" font-size="12" fill="#000">0.6</text><text transform="translate(295.66,59.7) scale(0.972,1)" font-size="12" fill="#000">0.8</text><text transform="translate(295.67,17.7) scale(0.985,1)" font-size="12" fill="#000">1.0</text></g>
<g transform="translate(320.3,0) rotate(90)" style="font-family:'Liberation Serif',serif"><text transform="translate(34.37,0) scale(0.938,1)" font-size="11.6" fill="#000">Profile</text><text transform="translate(68.86,0) scale(0.960,1)" font-size="11.6" fill="#000">likelihood</text><text transform="translate(118.24,0) scale(1.036,1)" font-size="11.6" fill="#000">ratio</text><text transform="translate(144.51,0) scale(0.886,1)" font-size="11.2" fill="#000">Λ</text><path transform="translate(165.6,0)" d="M0.9,-0.6 C1.3,-3.0 1.0,-6.0 1.7,-7.6 C2.4,-8.7 4.6,-8.4 4.7,-6.6 M0.2,-0.5 C2.0,0.0 4.6,0.1 6.4,-1.5" fill="none" stroke="#000" stroke-width="0.95" stroke-linecap="round"/><path transform="translate(179.2,0)" d="M0.9,-0.6 C1.3,-3.0 1.0,-6.0 1.7,-7.6 C2.4,-8.7 4.6,-8.4 4.7,-6.6 M0.2,-0.5 C2.0,0.0 4.6,0.1 6.4,-1.5" fill="none" stroke="#000" stroke-width="0.95" stroke-linecap="round"/><text transform="translate(186.41,0.9) scale(0.945,1)" font-size="9.2" fill="#000">max</text></g>
<path d="M322.20,154.8v7.7M324.20,154.8v7.7M317.90,173.1L329.80,179.1" stroke="#000" stroke-width="0.7" fill="none"/>
<g style="font-family:'Liberation Serif',serif" fill="#000"><text x="131.0" y="263.4" font-size="15" font-style="italic" transform="translate(131.0,0) scale(1.1,1) translate(-131.0,0)">m</text><text transform="translate(144.14,266.5) scale(0.983,1)" font-size="10.8" font-style="italic" fill="#000">χ</text><path d="M145.6,260.9 q0.85,-1.1 1.7,-0.4 q0.85,0.7 1.7,-0.4" stroke="#000" stroke-width="0.75" fill="none"/><text transform="translate(149.67,264.0) scale(1.111,1)" font-size="8.4" fill="#000">0</text><text x="150.55" y="270.9" font-size="8.4" fill="#000">1</text><text x="160.7" y="263.4" font-size="14.2">(GeV)</text></g>
<g transform="translate(11.4,153.2) rotate(-90)" style="font-family:'Liberation Serif',serif" fill="#000"><text x="-0.25" y="0" font-size="13.2">log</text><text x="16.35" y="2.9" font-size="10">10</text><text x="28.85" y="0.3" font-size="14.5">(</text><text x="34.25" y="0" font-size="12.5">Ω</text><text transform="translate(45.10,1.2) scale(1.15,1)" font-size="8.5" font-style="italic">χ</text><text transform="translate(50.92,0) scale(1.15,1)" font-size="13.2" font-style="italic">h</text><text x="58.90" y="-5.1" font-size="9">2</text><text x="64.75" y="0.3" font-size="14.5">)</text></g>
<rect x="410.4" y="6.05" width="220.9" height="224.65" fill="#000"/>
<defs><clipPath id="cC"><path d="M497.80,63.30 C498.18,62.45 498.85,61.37 499.40,61.10 C499.95,60.83 500.68,61.33 501.10,61.70 C501.52,62.07 501.63,63.28 501.90,63.30 C502.17,63.32 502.37,62.40 502.70,61.80 C503.03,61.20 503.23,59.98 503.90,59.70 C504.57,59.42 505.78,60.00 506.70,60.10 C507.62,60.20 508.57,60.40 509.40,60.30 C510.23,60.20 510.95,59.72 511.70,59.50 C512.45,59.28 513.22,58.98 513.90,59.00 C514.58,59.02 515.37,59.07 515.80,59.60 C516.23,60.13 516.45,61.13 516.50,62.20 C516.55,63.27 516.28,64.80 516.10,66.00 C515.92,67.20 515.15,68.25 515.40,69.40 C515.65,70.55 516.93,71.60 517.60,72.90 C518.27,74.20 519.07,75.97 519.40,77.20 C519.73,78.43 519.32,79.40 519.60,80.30 C519.88,81.20 520.67,81.52 521.10,82.60 C521.53,83.68 522.12,85.52 522.20,86.80 C522.28,88.08 521.95,89.62 521.60,90.30 C521.25,90.98 520.55,91.20 520.10,90.90 C519.65,90.60 519.18,89.45 518.90,88.50 C518.62,87.55 518.78,85.68 518.40,85.20 C518.02,84.72 517.23,85.22 516.60,85.60 C515.97,85.98 514.85,86.40 514.60,87.50 C514.35,88.60 514.80,90.85 515.10,92.20 C515.40,93.55 516.13,94.40 516.40,95.60 C516.67,96.80 516.82,98.12 516.70,99.40 C516.58,100.68 515.97,102.08 515.70,103.30 C515.43,104.52 515.17,105.50 515.10,106.70 C515.03,107.90 515.33,109.12 515.30,110.50 C515.27,111.88 515.15,113.52 514.90,115.00 C514.65,116.48 514.32,118.02 513.80,119.40 C513.28,120.78 512.25,122.00 511.80,123.30 C511.35,124.60 511.25,125.80 511.10,127.20 C510.95,128.60 511.05,130.22 510.90,131.70 C510.75,133.18 510.23,134.78 510.20,136.10 C510.17,137.42 510.72,138.48 510.70,139.60 C510.68,140.72 510.40,142.08 510.10,142.80 C509.80,143.52 509.38,144.07 508.90,143.90 C508.42,143.73 507.95,142.43 507.20,141.80 C506.45,141.17 505.32,140.68 504.40,140.10 C503.48,139.52 502.43,139.32 501.70,138.30 C500.97,137.28 500.57,135.47 500.00,134.00 C499.43,132.53 498.72,130.82 498.30,129.50 C497.88,128.18 497.57,127.22 497.50,126.10 C497.43,124.98 497.38,123.72 497.90,122.80 C498.42,121.88 500.07,121.72 500.60,120.60 C501.13,119.48 501.28,117.73 501.10,116.10 C500.92,114.47 499.97,112.18 499.50,110.80 C499.03,109.42 498.58,109.05 498.30,107.80 C498.02,106.55 497.70,104.57 497.80,103.30 C497.90,102.03 498.32,101.02 498.90,100.20 C499.48,99.38 500.68,99.00 501.30,98.40 C501.92,97.80 502.70,97.43 502.60,96.60 C502.50,95.77 501.13,94.50 500.70,93.40 C500.27,92.30 500.38,91.47 500.00,90.00 C499.62,88.53 498.75,86.17 498.40,84.60 C498.05,83.03 497.92,82.02 497.90,80.60 C497.88,79.18 498.40,77.40 498.30,76.10 C498.20,74.80 497.57,73.92 497.30,72.80 C497.03,71.68 496.73,70.50 496.70,69.40 C496.67,68.30 496.92,67.22 497.10,66.20 C497.28,65.18 497.42,64.15 497.80,63.30Z"/></clipPath><clipPath id="cD"><path d="M540.40,55.50 C540.65,54.47 540.98,53.30 541.40,52.80 C541.82,52.30 542.45,52.32 542.90,52.50 C543.35,52.68 543.68,53.92 544.10,53.90 C544.52,53.88 544.85,52.70 545.40,52.40 C545.95,52.10 546.78,51.90 547.40,52.10 C548.02,52.30 548.65,52.62 549.10,53.60 C549.55,54.58 549.88,56.43 550.10,58.00 C550.32,59.57 550.38,61.27 550.40,63.00 C550.42,64.73 550.37,66.73 550.20,68.40 C550.03,70.07 549.88,71.82 549.40,73.00 C548.92,74.18 548.00,75.13 547.30,75.50 C546.60,75.87 545.87,75.70 545.20,75.20 C544.53,74.70 543.87,73.62 543.30,72.50 C542.73,71.38 542.30,70.00 541.80,68.50 C541.30,67.00 540.62,65.08 540.30,63.50 C539.98,61.92 539.88,60.33 539.90,59.00 C539.92,57.67 540.15,56.53 540.40,55.50Z"/></clipPath></defs>
<g clip-path="url(#cC)">
<path d="M497.80,63.30 C498.18,62.45 498.85,61.37 499.40,61.10 C499.95,60.83 500.68,61.33 501.10,61.70 C501.52,62.07 501.63,63.28 501.90,63.30 C502.17,63.32 502.37,62.40 502.70,61.80 C503.03,61.20 503.23,59.98 503.90,59.70 C504.57,59.42 505.78,60.00 506.70,60.10 C507.62,60.20 508.57,60.40 509.40,60.30 C510.23,60.20 510.95,59.72 511.70,59.50 C512.45,59.28 513.22,58.98 513.90,59.00 C514.58,59.02 515.37,59.07 515.80,59.60 C516.23,60.13 516.45,61.13 516.50,62.20 C516.55,63.27 516.28,64.80 516.10,66.00 C515.92,67.20 515.15,68.25 515.40,69.40 C515.65,70.55 516.93,71.60 517.60,72.90 C518.27,74.20 519.07,75.97 519.40,77.20 C519.73,78.43 519.32,79.40 519.60,80.30 C519.88,81.20 520.67,81.52 521.10,82.60 C521.53,83.68 522.12,85.52 522.20,86.80 C522.28,88.08 521.95,89.62 521.60,90.30 C521.25,90.98 520.55,91.20 520.10,90.90 C519.65,90.60 519.18,89.45 518.90,88.50 C518.62,87.55 518.78,85.68 518.40,85.20 C518.02,84.72 517.23,85.22 516.60,85.60 C515.97,85.98 514.85,86.40 514.60,87.50 C514.35,88.60 514.80,90.85 515.10,92.20 C515.40,93.55 516.13,94.40 516.40,95.60 C516.67,96.80 516.82,98.12 516.70,99.40 C516.58,100.68 515.97,102.08 515.70,103.30 C515.43,104.52 515.17,105.50 515.10,106.70 C515.03,107.90 515.33,109.12 515.30,110.50 C515.27,111.88 515.15,113.52 514.90,115.00 C514.65,116.48 514.32,118.02 513.80,119.40 C513.28,120.78 512.25,122.00 511.80,123.30 C511.35,124.60 511.25,125.80 511.10,127.20 C510.95,128.60 511.05,130.22 510.90,131.70 C510.75,133.18 510.23,134.78 510.20,136.10 C510.17,137.42 510.72,138.48 510.70,139.60 C510.68,140.72 510.40,142.08 510.10,142.80 C509.80,143.52 509.38,144.07 508.90,143.90 C508.42,143.73 507.95,142.43 507.20,141.80 C506.45,141.17 505.32,140.68 504.40,140.10 C503.48,139.52 502.43,139.32 501.70,138.30 C500.97,137.28 500.57,135.47 500.00,134.00 C499.43,132.53 498.72,130.82 498.30,129.50 C497.88,128.18 497.57,127.22 497.50,126.10 C497.43,124.98 497.38,123.72 497.90,122.80 C498.42,121.88 500.07,121.72 500.60,120.60 C501.13,119.48 501.28,117.73 501.10,116.10 C500.92,114.47 499.97,112.18 499.50,110.80 C499.03,109.42 498.58,109.05 498.30,107.80 C498.02,106.55 497.70,104.57 497.80,103.30 C497.90,102.03 498.32,101.02 498.90,100.20 C499.48,99.38 500.68,99.00 501.30,98.40 C501.92,97.80 502.70,97.43 502.60,96.60 C502.50,95.77 501.13,94.50 500.70,93.40 C500.27,92.30 500.38,91.47 500.00,90.00 C499.62,88.53 498.75,86.17 498.40,84.60 C498.05,83.03 497.92,82.02 497.90,80.60 C497.88,79.18 498.40,77.40 498.30,76.10 C498.20,74.80 497.57,73.92 497.30,72.80 C497.03,71.68 496.73,70.50 496.70,69.40 C496.67,68.30 496.92,67.22 497.10,66.20 C497.28,65.18 497.42,64.15 497.80,63.30Z" fill="#030320"/>
<path d="M497.80,63.30 C498.18,62.45 498.85,61.37 499.40,61.10 C499.95,60.83 500.68,61.33 501.10,61.70 C501.52,62.07 501.63,63.28 501.90,63.30 C502.17,63.32 502.37,62.40 502.70,61.80 C503.03,61.20 503.23,59.98 503.90,59.70 C504.57,59.42 505.78,60.00 506.70,60.10 C507.62,60.20 508.57,60.40 509.40,60.30 C510.23,60.20 510.95,59.72 511.70,59.50 C512.45,59.28 513.22,58.98 513.90,59.00 C514.58,59.02 515.37,59.07 515.80,59.60 C516.23,60.13 516.45,61.13 516.50,62.20 C516.55,63.27 516.28,64.80 516.10,66.00 C515.92,67.20 515.15,68.25 515.40,69.40 C515.65,70.55 516.93,71.60 517.60,72.90 C518.27,74.20 519.07,75.97 519.40,77.20 C519.73,78.43 519.32,79.40 519.60,80.30 C519.88,81.20 520.67,81.52 521.10,82.60 C521.53,83.68 522.12,85.52 522.20,86.80 C522.28,88.08 521.95,89.62 521.60,90.30 C521.25,90.98 520.55,91.20 520.10,90.90 C519.65,90.60 519.18,89.45 518.90,88.50 C518.62,87.55 518.78,85.68 518.40,85.20 C518.02,84.72 517.23,85.22 516.60,85.60 C515.97,85.98 514.85,86.40 514.60,87.50 C514.35,88.60 514.80,90.85 515.10,92.20 C515.40,93.55 516.13,94.40 516.40,95.60 C516.67,96.80 516.82,98.12 516.70,99.40 C516.58,100.68 515.97,102.08 515.70,103.30 C515.43,104.52 515.17,105.50 515.10,106.70 C515.03,107.90 515.33,109.12 515.30,110.50 C515.27,111.88 515.15,113.52 514.90,115.00 C514.65,116.48 514.32,118.02 513.80,119.40 C513.28,120.78 512.25,122.00 511.80,123.30 C511.35,124.60 511.25,125.80 511.10,127.20 C510.95,128.60 511.05,130.22 510.90,131.70 C510.75,133.18 510.23,134.78 510.20,136.10 C510.17,137.42 510.72,138.48 510.70,139.60 C510.68,140.72 510.40,142.08 510.10,142.80 C509.80,143.52 509.38,144.07 508.90,143.90 C508.42,143.73 507.95,142.43 507.20,141.80 C506.45,141.17 505.32,140.68 504.40,140.10 C503.48,139.52 502.43,139.32 501.70,138.30 C500.97,137.28 500.57,135.47 500.00,134.00 C499.43,132.53 498.72,130.82 498.30,129.50 C497.88,128.18 497.57,127.22 497.50,126.10 C497.43,124.98 497.38,123.72 497.90,122.80 C498.42,121.88 500.07,121.72 500.60,120.60 C501.13,119.48 501.28,117.73 501.10,116.10 C500.92,114.47 499.97,112.18 499.50,110.80 C499.03,109.42 498.58,109.05 498.30,107.80 C498.02,106.55 497.70,104.57 497.80,103.30 C497.90,102.03 498.32,101.02 498.90,100.20 C499.48,99.38 500.68,99.00 501.30,98.40 C501.92,97.80 502.70,97.43 502.60,96.60 C502.50,95.77 501.13,94.50 500.70,93.40 C500.27,92.30 500.38,91.47 500.00,90.00 C499.62,88.53 498.75,86.17 498.40,84.60 C498.05,83.03 497.92,82.02 497.90,80.60 C497.88,79.18 498.40,77.40 498.30,76.10 C498.20,74.80 497.57,73.92 497.30,72.80 C497.03,71.68 496.73,70.50 496.70,69.40 C496.67,68.30 496.92,67.22 497.10,66.20 C497.28,65.18 497.42,64.15 497.80,63.30Z" fill="#0a0a50" filter="url(#b4)"/>
<g filter="url(#b1)"><ellipse cx="506" cy="69" rx="3" ry="8" transform="rotate(-20 506 69)" fill="#2e2ee0"/><ellipse cx="508.5" cy="86" rx="5" ry="9" fill="#3030e4"/><ellipse cx="506" cy="100" rx="4" ry="5" fill="#3030e0"/><ellipse cx="508.5" cy="106" rx="3" ry="4" fill="#2a2ad0"/><ellipse cx="504.5" cy="113" rx="2.5" ry="4" fill="#2828cc"/><ellipse cx="504" cy="128" rx="2.5" ry="4" fill="#2a2ad0"/><ellipse cx="508" cy="137" rx="1.8" ry="3.5" fill="#2626c8"/></g>
</g>
<g clip-path="url(#cD)">
<path d="M540.40,55.50 C540.65,54.47 540.98,53.30 541.40,52.80 C541.82,52.30 542.45,52.32 542.90,52.50 C543.35,52.68 543.68,53.92 544.10,53.90 C544.52,53.88 544.85,52.70 545.40,52.40 C545.95,52.10 546.78,51.90 547.40,52.10 C548.02,52.30 548.65,52.62 549.10,53.60 C549.55,54.58 549.88,56.43 550.10,58.00 C550.32,59.57 550.38,61.27 550.40,63.00 C550.42,64.73 550.37,66.73 550.20,68.40 C550.03,70.07 549.88,71.82 549.40,73.00 C548.92,74.18 548.00,75.13 547.30,75.50 C546.60,75.87 545.87,75.70 545.20,75.20 C544.53,74.70 543.87,73.62 543.30,72.50 C542.73,71.38 542.30,70.00 541.80,68.50 C541.30,67.00 540.62,65.08 540.30,63.50 C539.98,61.92 539.88,60.33 539.90,59.00 C539.92,57.67 540.15,56.53 540.40,55.50Z" fill="#030320"/>
<path d="M540.40,55.50 C540.65,54.47 540.98,53.30 541.40,52.80 C541.82,52.30 542.45,52.32 542.90,52.50 C543.35,52.68 543.68,53.92 544.10,53.90 C544.52,53.88 544.85,52.70 545.40,52.40 C545.95,52.10 546.78,51.90 547.40,52.10 C548.02,52.30 548.65,52.62 549.10,53.60 C549.55,54.58 549.88,56.43 550.10,58.00 C550.32,59.57 550.38,61.27 550.40,63.00 C550.42,64.73 550.37,66.73 550.20,68.40 C550.03,70.07 549.88,71.82 549.40,73.00 C548.92,74.18 548.00,75.13 547.30,75.50 C546.60,75.87 545.87,75.70 545.20,75.20 C544.53,74.70 543.87,73.62 543.30,72.50 C542.73,71.38 542.30,70.00 541.80,68.50 C541.30,67.00 540.62,65.08 540.30,63.50 C539.98,61.92 539.88,60.33 539.90,59.00 C539.92,57.67 540.15,56.53 540.40,55.50Z" fill="#1c1ca4" filter="url(#b4)"/>
<g filter="url(#b1)"><ellipse cx="545.5" cy="66" rx="3" ry="8" fill="#3030e6"/></g>
</g>
<path d="M503.30,75.20 C503.60,74.28 504.50,74.20 504.90,74.50 C505.30,74.80 505.35,76.27 505.70,77.00 C506.05,77.73 506.38,78.68 507.00,78.90 C507.62,79.12 508.63,78.33 509.40,78.30 C510.17,78.27 511.05,78.25 511.60,78.70 C512.15,79.15 512.60,80.18 512.70,81.00 C512.80,81.82 512.55,82.33 512.20,83.60 C511.85,84.87 511.23,87.03 510.60,88.60 C509.97,90.17 508.97,92.03 508.40,93.00 C507.83,93.97 507.60,94.53 507.20,94.40 C506.80,94.27 506.48,93.63 506.00,92.20 C505.52,90.77 504.78,87.83 504.30,85.80 C503.82,83.77 503.27,81.77 503.10,80.00 C502.93,78.23 503.00,76.12 503.30,75.20Z" fill="url(#rg2)" stroke="#f0f4ff" stroke-width="0.85"/>
<ellipse cx="506.8" cy="84" rx="1.8" ry="4.5" fill="#40d8ff" filter="url(#b3)"/>
<path d="M547.40,61.20 C547.75,61.15 548.15,61.90 548.40,62.70 C548.65,63.50 548.83,64.78 548.90,66.00 C548.97,67.22 548.92,68.90 548.80,70.00 C548.68,71.10 548.67,72.08 548.20,72.60 C547.73,73.12 546.60,73.15 546.00,73.10 C545.40,73.05 544.85,72.90 544.60,72.30 C544.35,71.70 544.38,70.55 544.50,69.50 C544.62,68.45 545.00,67.08 545.30,66.00 C545.60,64.92 545.95,63.80 546.30,63.00 C546.65,62.20 547.05,61.25 547.40,61.20Z" fill="url(#rg2)" stroke="#f0f4ff" stroke-width="0.85"/>
<ellipse cx="546.5" cy="68" rx="1.2" ry="2.8" fill="#50e0ff" filter="url(#b3)"/>
<ellipse cx="490.8" cy="65.0" rx="1.4" ry="2.4" fill="none" stroke="#fff" stroke-width="0.9"/>
<ellipse cx="504.2" cy="115.6" rx="1.0" ry="2.5" fill="#30a0ff" stroke="#fff" stroke-width="0.9"/>
<ellipse cx="507.8" cy="117.2" rx="1.5" ry="3.5" fill="#10105a" stroke="#fff" stroke-width="0.9"/>
<ellipse cx="501.1" cy="125.6" rx="1.2" ry="1.3" fill="#000" stroke="#fff" stroke-width="0.9"/>
<ellipse cx="512.2" cy="135.5" rx="1.6" ry="4.4" fill="#000" stroke="#fff" stroke-width="0.9"/>
<ellipse cx="506.7" cy="147.8" rx="1.6" ry="1.9" fill="#101060" stroke="#fff" stroke-width="0.9"/>
<ellipse cx="512.4" cy="173.0" rx="2.3" ry="7.6" fill="#0c0c5a" stroke="#fff" stroke-width="0.9"/>
<ellipse cx="506.9" cy="169.3" rx="2.0" ry="3.3" fill="#0a0a48" stroke="#fff" stroke-width="0.9"/>
<ellipse cx="509.5" cy="186.0" rx="2.1" ry="3.5" fill="#0a0a48" stroke="#fff" stroke-width="0.9"/>
<ellipse cx="512.3" cy="173.5" rx="1.4" ry="5" fill="#2a2ad8" filter="url(#b3)"/>
<ellipse cx="512.2" cy="174.8" rx="0.9" ry="2.0" fill="#30c8ff" filter="url(#b3)"/>
<circle cx="509.8" cy="112.2" r="1.1" fill="#30d0e0"/>
<path d="M521.4,57.2 C523.5,57.0 524.8,59.0 524.6,61.5 C524.4,63.0 523.2,63.2 522.6,61.8 C522.2,60.5 522.0,59 521.4,57.2Z" fill="none" stroke="#e8e8e8" stroke-width="0.8"/>
<path d="M502.6,131.2 C504,132.2 505,133.2 505.6,134.6" fill="none" stroke="#e8e8e8" stroke-width="0.8"/>
<circle cx="523.3" cy="109.2" r="0.7" fill="#ddd"/>
<circle cx="518.3" cy="120" r="0.8" fill="#ddd"/>
<path d="M497.80,63.30 C498.18,62.45 498.85,61.37 499.40,61.10 C499.95,60.83 500.68,61.33 501.10,61.70 C501.52,62.07 501.63,63.28 501.90,63.30 C502.17,63.32 502.37,62.40 502.70,61.80 C503.03,61.20 503.23,59.98 503.90,59.70 C504.57,59.42 505.78,60.00 506.70,60.10 C507.62,60.20 508.57,60.40 509.40,60.30 C510.23,60.20 510.95,59.72 511.70,59.50 C512.45,59.28 513.22,58.98 513.90,59.00 C514.58,59.02 515.37,59.07 515.80,59.60 C516.23,60.13 516.45,61.13 516.50,62.20 C516.55,63.27 516.28,64.80 516.10,66.00 C515.92,67.20 515.15,68.25 515.40,69.40 C515.65,70.55 516.93,71.60 517.60,72.90 C518.27,74.20 519.07,75.97 519.40,77.20 C519.73,78.43 519.32,79.40 519.60,80.30 C519.88,81.20 520.67,81.52 521.10,82.60 C521.53,83.68 522.12,85.52 522.20,86.80 C522.28,88.08 521.95,89.62 521.60,90.30 C521.25,90.98 520.55,91.20 520.10,90.90 C519.65,90.60 519.18,89.45 518.90,88.50 C518.62,87.55 518.78,85.68 518.40,85.20 C518.02,84.72 517.23,85.22 516.60,85.60 C515.97,85.98 514.85,86.40 514.60,87.50 C514.35,88.60 514.80,90.85 515.10,92.20 C515.40,93.55 516.13,94.40 516.40,95.60 C516.67,96.80 516.82,98.12 516.70,99.40 C516.58,100.68 515.97,102.08 515.70,103.30 C515.43,104.52 515.17,105.50 515.10,106.70 C515.03,107.90 515.33,109.12 515.30,110.50 C515.27,111.88 515.15,113.52 514.90,115.00 C514.65,116.48 514.32,118.02 513.80,119.40 C513.28,120.78 512.25,122.00 511.80,123.30 C511.35,124.60 511.25,125.80 511.10,127.20 C510.95,128.60 511.05,130.22 510.90,131.70 C510.75,133.18 510.23,134.78 510.20,136.10 C510.17,137.42 510.72,138.48 510.70,139.60 C510.68,140.72 510.40,142.08 510.10,142.80 C509.80,143.52 509.38,144.07 508.90,143.90 C508.42,143.73 507.95,142.43 507.20,141.80 C506.45,141.17 505.32,140.68 504.40,140.10 C503.48,139.52 502.43,139.32 501.70,138.30 C500.97,137.28 500.57,135.47 500.00,134.00 C499.43,132.53 498.72,130.82 498.30,129.50 C497.88,128.18 497.57,127.22 497.50,126.10 C497.43,124.98 497.38,123.72 497.90,122.80 C498.42,121.88 500.07,121.72 500.60,120.60 C501.13,119.48 501.28,117.73 501.10,116.10 C500.92,114.47 499.97,112.18 499.50,110.80 C499.03,109.42 498.58,109.05 498.30,107.80 C498.02,106.55 497.70,104.57 497.80,103.30 C497.90,102.03 498.32,101.02 498.90,100.20 C499.48,99.38 500.68,99.00 501.30,98.40 C501.92,97.80 502.70,97.43 502.60,96.60 C502.50,95.77 501.13,94.50 500.70,93.40 C500.27,92.30 500.38,91.47 500.00,90.00 C499.62,88.53 498.75,86.17 498.40,84.60 C498.05,83.03 497.92,82.02 497.90,80.60 C497.88,79.18 498.40,77.40 498.30,76.10 C498.20,74.80 497.57,73.92 497.30,72.80 C497.03,71.68 496.73,70.50 496.70,69.40 C496.67,68.30 496.92,67.22 497.10,66.20 C497.28,65.18 497.42,64.15 497.80,63.30Z" fill="none" stroke="#000" stroke-width="2.2" opacity="0.55"/>
<path d="M497.80,63.30 C498.18,62.45 498.85,61.37 499.40,61.10 C499.95,60.83 500.68,61.33 501.10,61.70 C501.52,62.07 501.63,63.28 501.90,63.30 C502.17,63.32 502.37,62.40 502.70,61.80 C503.03,61.20 503.23,59.98 503.90,59.70 C504.57,59.42 505.78,60.00 506.70,60.10 C507.62,60.20 508.57,60.40 509.40,60.30 C510.23,60.20 510.95,59.72 511.70,59.50 C512.45,59.28 513.22,58.98 513.90,59.00 C514.58,59.02 515.37,59.07 515.80,59.60 C516.23,60.13 516.45,61.13 516.50,62.20 C516.55,63.27 516.28,64.80 516.10,66.00 C515.92,67.20 515.15,68.25 515.40,69.40 C515.65,70.55 516.93,71.60 517.60,72.90 C518.27,74.20 519.07,75.97 519.40,77.20 C519.73,78.43 519.32,79.40 519.60,80.30 C519.88,81.20 520.67,81.52 521.10,82.60 C521.53,83.68 522.12,85.52 522.20,86.80 C522.28,88.08 521.95,89.62 521.60,90.30 C521.25,90.98 520.55,91.20 520.10,90.90 C519.65,90.60 519.18,89.45 518.90,88.50 C518.62,87.55 518.78,85.68 518.40,85.20 C518.02,84.72 517.23,85.22 516.60,85.60 C515.97,85.98 514.85,86.40 514.60,87.50 C514.35,88.60 514.80,90.85 515.10,92.20 C515.40,93.55 516.13,94.40 516.40,95.60 C516.67,96.80 516.82,98.12 516.70,99.40 C516.58,100.68 515.97,102.08 515.70,103.30 C515.43,104.52 515.17,105.50 515.10,106.70 C515.03,107.90 515.33,109.12 515.30,110.50 C515.27,111.88 515.15,113.52 514.90,115.00 C514.65,116.48 514.32,118.02 513.80,119.40 C513.28,120.78 512.25,122.00 511.80,123.30 C511.35,124.60 511.25,125.80 511.10,127.20 C510.95,128.60 511.05,130.22 510.90,131.70 C510.75,133.18 510.23,134.78 510.20,136.10 C510.17,137.42 510.72,138.48 510.70,139.60 C510.68,140.72 510.40,142.08 510.10,142.80 C509.80,143.52 509.38,144.07 508.90,143.90 C508.42,143.73 507.95,142.43 507.20,141.80 C506.45,141.17 505.32,140.68 504.40,140.10 C503.48,139.52 502.43,139.32 501.70,138.30 C500.97,137.28 500.57,135.47 500.00,134.00 C499.43,132.53 498.72,130.82 498.30,129.50 C497.88,128.18 497.57,127.22 497.50,126.10 C497.43,124.98 497.38,123.72 497.90,122.80 C498.42,121.88 500.07,121.72 500.60,120.60 C501.13,119.48 501.28,117.73 501.10,116.10 C500.92,114.47 499.97,112.18 499.50,110.80 C499.03,109.42 498.58,109.05 498.30,107.80 C498.02,106.55 497.70,104.57 497.80,103.30 C497.90,102.03 498.32,101.02 498.90,100.20 C499.48,99.38 500.68,99.00 501.30,98.40 C501.92,97.80 502.70,97.43 502.60,96.60 C502.50,95.77 501.13,94.50 500.70,93.40 C500.27,92.30 500.38,91.47 500.00,90.00 C499.62,88.53 498.75,86.17 498.40,84.60 C498.05,83.03 497.92,82.02 497.90,80.60 C497.88,79.18 498.40,77.40 498.30,76.10 C498.20,74.80 497.57,73.92 497.30,72.80 C497.03,71.68 496.73,70.50 496.70,69.40 C496.67,68.30 496.92,67.22 497.10,66.20 C497.28,65.18 497.42,64.15 497.80,63.30Z" fill="none" stroke="#e8e8e8" stroke-width="0.9"/>
<path d="M540.40,55.50 C540.65,54.47 540.98,53.30 541.40,52.80 C541.82,52.30 542.45,52.32 542.90,52.50 C543.35,52.68 543.68,53.92 544.10,53.90 C544.52,53.88 544.85,52.70 545.40,52.40 C545.95,52.10 546.78,51.90 547.40,52.10 C548.02,52.30 548.65,52.62 549.10,53.60 C549.55,54.58 549.88,56.43 550.10,58.00 C550.32,59.57 550.38,61.27 550.40,63.00 C550.42,64.73 550.37,66.73 550.20,68.40 C550.03,70.07 549.88,71.82 549.40,73.00 C548.92,74.18 548.00,75.13 547.30,75.50 C546.60,75.87 545.87,75.70 545.20,75.20 C544.53,74.70 543.87,73.62 543.30,72.50 C542.73,71.38 542.30,70.00 541.80,68.50 C541.30,67.00 540.62,65.08 540.30,63.50 C539.98,61.92 539.88,60.33 539.90,59.00 C539.92,57.67 540.15,56.53 540.40,55.50Z" fill="none" stroke="#000" stroke-width="2.2" opacity="0.55"/>
<path d="M540.40,55.50 C540.65,54.47 540.98,53.30 541.40,52.80 C541.82,52.30 542.45,52.32 542.90,52.50 C543.35,52.68 543.68,53.92 544.10,53.90 C544.52,53.88 544.85,52.70 545.40,52.40 C545.95,52.10 546.78,51.90 547.40,52.10 C548.02,52.30 548.65,52.62 549.10,53.60 C549.55,54.58 549.88,56.43 550.10,58.00 C550.32,59.57 550.38,61.27 550.40,63.00 C550.42,64.73 550.37,66.73 550.20,68.40 C550.03,70.07 549.88,71.82 549.40,73.00 C548.92,74.18 548.00,75.13 547.30,75.50 C546.60,75.87 545.87,75.70 545.20,75.20 C544.53,74.70 543.87,73.62 543.30,72.50 C542.73,71.38 542.30,70.00 541.80,68.50 C541.30,67.00 540.62,65.08 540.30,63.50 C539.98,61.92 539.88,60.33 539.90,59.00 C539.92,57.67 540.15,56.53 540.40,55.50Z" fill="none" stroke="#e8e8e8" stroke-width="0.9"/>
<defs><clipPath id="cR"><rect x="410" y="6" width="221" height="225"/></clipPath></defs>
<g clip-path="url(#cR)" fill="none" stroke-width="1.6" stroke-linejoin="round">
<path d="M420.30,6.00 C420.78,9.23 422.37,20.57 423.20,25.40 C424.03,30.23 424.62,31.60 425.30,35.00 C425.98,38.40 426.53,42.47 427.30,45.80 C428.07,49.13 429.05,52.23 429.90,55.00 C430.75,57.77 431.37,59.93 432.40,62.40 C433.43,64.87 434.73,67.58 436.10,69.80 C437.47,72.02 438.75,73.85 440.60,75.70 C442.45,77.55 444.87,79.42 447.20,80.90 C449.53,82.38 451.63,83.48 454.60,84.60 C457.57,85.72 461.53,86.77 465.00,87.60 C468.47,88.43 472.07,89.10 475.40,89.60 C478.73,90.10 481.63,90.32 485.00,90.60 C488.37,90.88 489.77,91.27 495.60,91.30 C501.43,91.33 509.27,91.05 520.00,90.80 C530.73,90.55 546.67,90.17 560.00,89.80 C573.33,89.43 588.17,88.95 600.00,88.60 C611.83,88.25 625.83,87.85 631.00,87.70" stroke="#ffa500"/>
<path d="M424.40,6.00 C424.57,6.83 425.08,9.50 425.40,11.00 C425.72,12.50 425.95,13.42 426.30,15.00 C426.65,16.58 427.07,18.65 427.50,20.50 C427.93,22.35 428.42,24.43 428.90,26.10 C429.38,27.77 429.85,29.20 430.40,30.50 C430.95,31.80 431.57,32.68 432.20,33.90 C432.83,35.12 433.52,36.65 434.20,37.80 C434.88,38.95 435.47,39.57 436.30,40.80 C437.13,42.03 438.22,43.92 439.20,45.20 C440.18,46.48 441.18,47.52 442.20,48.50 C443.22,49.48 444.07,50.15 445.30,51.10 C446.53,52.05 448.10,53.28 449.60,54.20 C451.10,55.12 452.73,55.98 454.30,56.60 C455.87,57.22 457.47,57.57 459.00,57.90 C460.53,58.23 460.83,58.38 463.50,58.60 C466.17,58.82 470.65,59.13 475.00,59.20 C479.35,59.27 484.70,59.15 489.60,59.00 C494.50,58.85 499.45,58.57 504.40,58.30 C509.35,58.03 513.37,57.73 519.30,57.40 C525.23,57.07 534.05,56.63 540.00,56.30 C545.95,55.97 548.33,55.75 555.00,55.40 C561.67,55.05 571.67,54.60 580.00,54.20 C588.33,53.80 596.50,53.38 605.00,53.00 C613.50,52.62 626.67,52.08 631.00,51.90" stroke="#ee0000"/>
<path d="M426.70,6.00 C426.93,6.77 427.65,9.10 428.10,10.60 C428.55,12.10 428.97,13.67 429.40,15.00 C429.83,16.33 430.20,17.43 430.70,18.60 C431.20,19.77 431.68,20.75 432.40,22.00 C433.12,23.25 433.83,24.48 435.00,26.10 C436.17,27.72 437.73,29.78 439.40,31.70 C441.07,33.62 443.30,35.95 445.00,37.60 C446.70,39.25 448.05,40.43 449.60,41.60 C451.15,42.77 452.75,43.77 454.30,44.60 C455.85,45.43 457.37,46.03 458.90,46.60 C460.43,47.17 461.18,47.47 463.50,48.00 C465.82,48.53 469.05,49.23 472.80,49.80 C476.55,50.37 480.73,51.00 486.00,51.40 C491.27,51.80 498.85,52.08 504.40,52.20 C509.95,52.32 513.37,52.20 519.30,52.10 C525.23,52.00 534.05,51.77 540.00,51.60 C545.95,51.43 548.33,51.32 555.00,51.10 C561.67,50.88 571.67,50.60 580.00,50.30 C588.33,50.00 596.50,49.62 605.00,49.30 C613.50,48.98 626.67,48.55 631.00,48.40" stroke="#b0dff0"/>
</g>
<path d="M509.90,104.00 L510.91,106.42 L513.51,106.63 L511.53,108.33 L512.13,110.87 L509.90,109.51 L507.67,110.87 L508.27,108.33 L506.29,106.63 L508.89,106.42Z" fill="#fff" stroke="#000" stroke-width="1" stroke-linejoin="miter"/>
<path d="M519.40,48.90 L520.93,52.20 L524.54,52.63 L521.87,55.10 L522.57,58.67 L519.40,56.90 L516.23,58.67 L516.93,55.10 L514.26,52.63 L517.87,52.20Z" fill="#a0a0a0" filter="url(#b3)"/>
<path d="M519.40,51.90 L520.16,53.55 L521.97,53.77 L520.64,55.00 L520.99,56.78 L519.40,55.90 L517.81,56.78 L518.16,55.00 L516.83,53.77 L518.64,53.55Z" fill="#d8d8d8" filter="url(#b3)"/>
<g stroke-width="1.7"><line x1="524.4" y1="149.4" x2="542" y2="149.4" stroke="#b0dff0"/><line x1="524.4" y1="160.9" x2="542" y2="160.9" stroke="#ee0000"/><line x1="524.4" y1="172" x2="542" y2="172" stroke="#f5a300" stroke-dasharray="5 1"/></g>
<g style="font-family:'Liberation Serif',serif" font-size="10.2"><text x="546.6" y="152.6" fill="#b0dff0">PandaX 2017</text><text x="546.6" y="164.2" fill="#ee0000">XENON1T 2018</text><text x="546.6" y="175.3" fill="#eea000">LZ projection</text></g>
<path d="M421.17,230.7v-4.2M421.17,6.05v4.5M432.24,230.7v-4.2M432.24,6.05v4.5M443.30,230.7v-4.2M443.30,6.05v4.5M454.37,230.7v-9.2M454.37,6.05v9.5M465.44,230.7v-4.2M465.44,6.05v4.5M476.50,230.7v-4.2M476.50,6.05v4.5M487.57,230.7v-4.2M487.57,6.05v4.5M498.64,230.7v-9.2M498.64,6.05v9.5M509.71,230.7v-4.2M509.71,6.05v4.5M520.77,230.7v-4.2M520.77,6.05v4.5M531.84,230.7v-4.2M531.84,6.05v4.5M542.91,230.7v-9.2M542.91,6.05v9.5M553.98,230.7v-4.2M553.98,6.05v4.5M565.05,230.7v-4.2M565.05,6.05v4.5M576.11,230.7v-4.2M576.11,6.05v4.5M587.18,230.7v-9.2M587.18,6.05v9.5M598.25,230.7v-4.2M598.25,6.05v4.5M609.32,230.7v-4.2M609.32,6.05v4.5M620.38,230.7v-4.2M620.38,6.05v4.5M410.4,219.75h4.1M631.3,219.75h-4.5M410.4,208.50h4.1M631.3,208.50h-4.5M410.4,197.25h4.1M631.3,197.25h-4.5M410.4,186.00h9.1M631.3,186.00h-9.5M410.4,174.75h4.1M631.3,174.75h-4.5M410.4,163.50h4.1M631.3,163.50h-4.5M410.4,152.25h4.1M631.3,152.25h-4.5M410.4,141.00h9.1M631.3,141.00h-9.5M410.4,129.75h4.1M631.3,129.75h-4.5M410.4,118.50h4.1M631.3,118.50h-4.5M410.4,107.25h4.1M631.3,107.25h-4.5M410.4,96.00h9.1M631.3,96.00h-9.5M410.4,84.75h4.1M631.3,84.75h-4.5M410.4,73.50h4.1M631.3,73.50h-4.5M410.4,62.25h4.1M631.3,62.25h-4.5M410.4,51.00h9.1M631.3,51.00h-9.5M410.4,39.75h4.1M631.3,39.75h-4.5M410.4,28.50h4.1M631.3,28.50h-4.5M410.4,17.25h4.1M631.3,17.25h-4.5" stroke="#e4e4e4" stroke-width="0.9" fill="none"/>
<g style="font-family:'Liberation Serif',serif" font-size="14.6" fill="#000"><text x="410.10" y="247.7" text-anchor="middle">0</text><text x="454.37" y="247.7" text-anchor="middle">20</text><text x="498.64" y="247.7" text-anchor="middle">40</text><text x="542.91" y="247.7" text-anchor="middle">60</text><text x="587.18" y="247.7" text-anchor="middle">80</text><text x="631.45" y="247.7" text-anchor="middle">100</text><text x="389.50" y="9.85" font-size="14.0">44</text><text x="389.50" y="54.85" font-size="14.0">46</text><text x="389.50" y="99.85" font-size="14.0">48</text><text x="389.50" y="144.85" font-size="14.0">50</text><text x="389.50" y="189.85" font-size="14.0">52</text></g>
<path d="M379.80,6.35h7.9M379.80,51.35h7.9M379.80,96.35h7.9M379.80,141.35h7.9M379.80,186.35h7.9" stroke="#000" stroke-width="0.85" fill="none"/>
<rect x="636.5" y="13.5" width="14.0" height="210.0" fill="url(#cmap)" stroke="#000" stroke-width="1"/>
<path d="M650.5,213.00h-4.5M650.5,202.50h-4.5M650.5,192.00h-4.5M650.5,181.50h-9M650.5,171.00h-4.5M650.5,160.50h-4.5M650.5,150.00h-4.5M650.5,139.50h-9M650.5,129.00h-4.5M650.5,118.50h-4.5M650.5,108.00h-4.5M650.5,97.50h-9M650.5,87.00h-4.5M650.5,76.50h-4.5M650.5,66.00h-4.5M650.5,55.50h-9M650.5,45.00h-4.5M650.5,34.50h-4.5M650.5,24.00h-4.5" stroke="#000" stroke-width="1" fill="none" opacity="0.85"/>
<g style="font-family:'Liberation Serif',serif" font-size="12" fill="#000"><text transform="translate(651.66,185.7) scale(0.986,1)" font-size="12" fill="#000">0.2</text><text transform="translate(651.67,143.7) scale(0.955,1)" font-size="12" fill="#000">0.4</text><text transform="translate(651.67,101.7) scale(0.965,1)" font-size="12" fill="#000">0.6</text><text transform="translate(651.66,59.7) scale(0.972,1)" font-size="12" fill="#000">0.8</text><text transform="translate(651.67,17.7) scale(0.985,1)" font-size="12" fill="#000">1.0</text></g>
<g transform="translate(676.3,0) rotate(90)" style="font-family:'Liberation Serif',serif"><text transform="translate(34.37,0) scale(0.938,1)" font-size="11.6" fill="#000">Profile</text><text transform="translate(68.86,0) scale(0.960,1)" font-size="11.6" fill="#000">likelihood</text><text transform="translate(118.24,0) scale(1.036,1)" font-size="11.6" fill="#000">ratio</text><text transform="translate(144.51,0) scale(0.886,1)" font-size="11.2" fill="#000">Λ</text><path transform="translate(165.6,0)" d="M0.9,-0.6 C1.3,-3.0 1.0,-6.0 1.7,-7.6 C2.4,-8.7 4.6,-8.4 4.7,-6.6 M0.2,-0.5 C2.0,0.0 4.6,0.1 6.4,-1.5" fill="none" stroke="#000" stroke-width="0.95" stroke-linecap="round"/><path transform="translate(179.2,0)" d="M0.9,-0.6 C1.3,-3.0 1.0,-6.0 1.7,-7.6 C2.4,-8.7 4.6,-8.4 4.7,-6.6 M0.2,-0.5 C2.0,0.0 4.6,0.1 6.4,-1.5" fill="none" stroke="#000" stroke-width="0.95" stroke-linecap="round"/><text transform="translate(186.41,0.9) scale(0.945,1)" font-size="9.2" fill="#000">max</text></g>
<path d="M678.20,154.8v7.7M680.20,154.8v7.7M673.90,173.1L685.80,179.1" stroke="#000" stroke-width="0.7" fill="none"/>
<g style="font-family:'Liberation Serif',serif" fill="#000"><text x="487.0" y="263.4" font-size="15" font-style="italic" transform="translate(487.0,0) scale(1.1,1) translate(-487.0,0)">m</text><text transform="translate(500.14,266.5) scale(0.983,1)" font-size="10.8" font-style="italic" fill="#000">χ</text><path d="M501.6,260.9 q0.85,-1.1 1.7,-0.4 q0.85,0.7 1.7,-0.4" stroke="#000" stroke-width="0.75" fill="none"/><text transform="translate(505.67,264.0) scale(1.111,1)" font-size="8.4" fill="#000">0</text><text x="506.55" y="270.9" font-size="8.4" fill="#000">1</text><text x="516.7" y="263.4" font-size="14.2">(GeV)</text></g>
<g transform="translate(362.6,171.2) rotate(-90)" style="font-family:'Liberation Serif',serif" fill="#000"><text x="-0.25" y="0" font-size="13">log</text><text x="16.45" y="3.0" font-size="10">10</text><text x="28.55" y="0.3" font-size="14.5">(</text><text x="34.75" y="0" font-size="13.5" font-style="italic">f</text><text x="44.80" y="0" font-size="13">·</text><text x="52.70" y="0" font-size="13" font-style="italic">σ</text><text x="60.15" y="-5.1" font-size="10">SI</text><text x="60.15" y="3.2" font-size="9.5" font-style="italic">p</text><path d="M69.8,2.5L77.2,-10.9" stroke="#000" stroke-width="0.75"/><text x="77.50" y="0" font-size="13.3">cm</text><text x="93.90" y="-7.0" font-size="9">2</text><text x="100.55" y="0.3" font-size="14.5">)</text></g>
</svg></body></html>
